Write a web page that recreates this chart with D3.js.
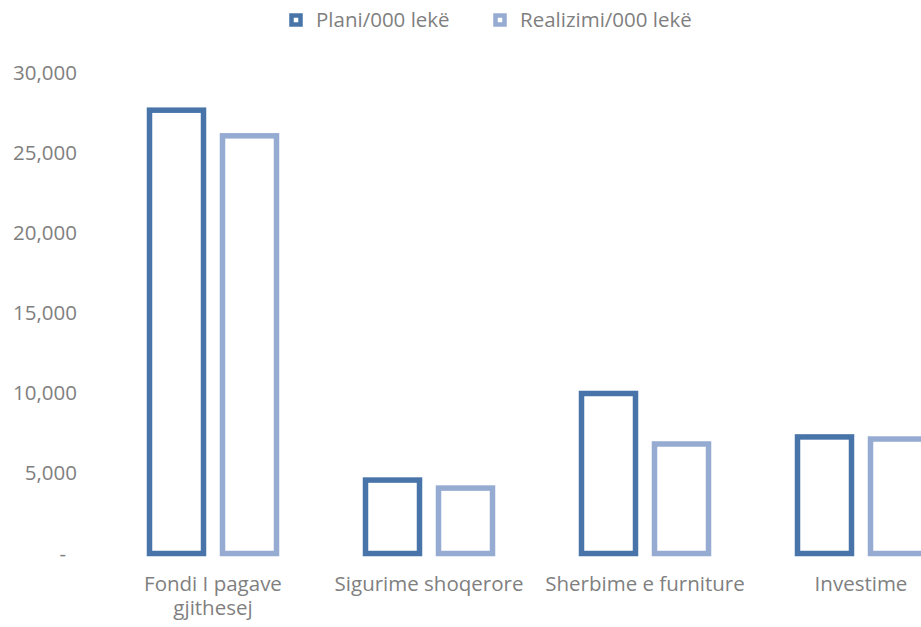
<!DOCTYPE html>
<html>
<head>
<meta charset="utf-8">
<script src="https://cdn.jsdelivr.net/npm/d3@7"></script>
<style>
  body { margin: 0; background: #fff; }
  svg { display: block; font-family: "Open Sans", sans-serif; }
</style>
</head>
<body>
<div id="chart"></div>
<script>
const categories = ["Fondi I pagave gjithesej", "Sigurime shoqerore", "Sherbime e furniture", "Investime"];
const seriesNames = ["Plani/000 lekë", "Realizimi/000 lekë"];
const plani = [27650, 4580, 9980, 7270];
const realizimi = [26050, 4080, 6830, 7140];
const yTicks = [0, 5000, 10000, 15000, 20000, 25000, 30000];
const colors = ["#4874a9", "#95abd2"];

const width = 921;
const height = 627;
const textColor = "#7f7f7f";
const fontSize = 20.5;

const svg = d3.select("#chart")
    .append("svg")
    .attr("width", width)
    .attr("height", height);

// scales (the plot runs past the right edge, like the original)
const x0 = d3.scaleBand().domain(categories).range([105, 969]);
const x1 = d3.scaleBand().domain(seriesNames).range([35, 181]);
const y = d3.scaleLinear([0, 30000], [553.5, 72.5]);
const barW = 54;

// y axis labels
svg.append("g")
    .attr("transform", "translate(77,0)")
    .call(d3.axisLeft(y).tickValues(yTicks).tickSize(0).tickPadding(0)
        .tickFormat(d => d === 0 ? "-" : d3.format(",")(d)))
    .call(g => g.select(".domain").remove())
    .call(g => g.selectAll("text")
        .attr("fill", textColor)
        .attr("font-size", fontSize)
        .attr("font-family", "Open Sans, sans-serif"))
    .call(g => g.selectAll(".tick").filter(d => d === 0).select("text").attr("dx", -11));

// bars
const data = categories.map((c, i) => ({ cat: c, values: [plani[i], realizimi[i]] }));
const groups = svg.append("g")
    .selectAll("g")
    .data(data)
    .join("g")
    .attr("transform", d => `translate(${x0(d.cat)},0)`);

groups.selectAll("rect")
    .data(d => d.values.map((v, j) => ({ key: seriesNames[j], value: v, j })))
    .join("rect")
    .attr("x", d => x1(d.key) + (x1.bandwidth() - barW) / 2)
    .attr("width", barW)
    .attr("y", d => y(d.value))
    .attr("height", d => y(0) - y(d.value))
    .attr("fill", "none")
    .attr("stroke", d => colors[d.j])
    .attr("stroke-width", 5.5);

// category labels (wrapped)
const labelLines = {
    "Fondi I pagave gjithesej": ["Fondi I pagave", "gjithesej"]
};
const catText = svg.append("g")
    .selectAll("text")
    .data(categories)
    .join("text")
    .attr("x", d => x0(d) + x0.bandwidth() / 2)
    .attr("y", 591)
    .attr("text-anchor", "middle")
    .attr("font-size", fontSize)
    .attr("fill", textColor);
catText.each(function(d) {
    const lines = labelLines[d] || [d];
    d3.select(this).selectAll("tspan")
        .data(lines)
        .join("tspan")
        .attr("x", x0(d) + x0.bandwidth() / 2)
        .attr("dy", (l, i) => i === 0 ? 0 : 24)
        .text(l => l);
});

// legend
const legendX = [296, 500];
const legend = svg.append("g")
    .selectAll("g")
    .data(seriesNames)
    .join("g")
    .attr("transform", (d, i) => `translate(${legendX[i]},20)`);
legend.append("rect")
    .attr("x", -4.5).attr("y", -4.5)
    .attr("width", 9).attr("height", 9)
    .attr("fill", "#fff")
    .attr("stroke", (d, i) => colors[i])
    .attr("stroke-width", 4.5);
legend.append("text")
    .attr("x", 20)
    .attr("dy", "0.35em")
    .attr("font-size", fontSize)
    .attr("fill", textColor)
    .text(d => d);
</script>
</body>
</html>
